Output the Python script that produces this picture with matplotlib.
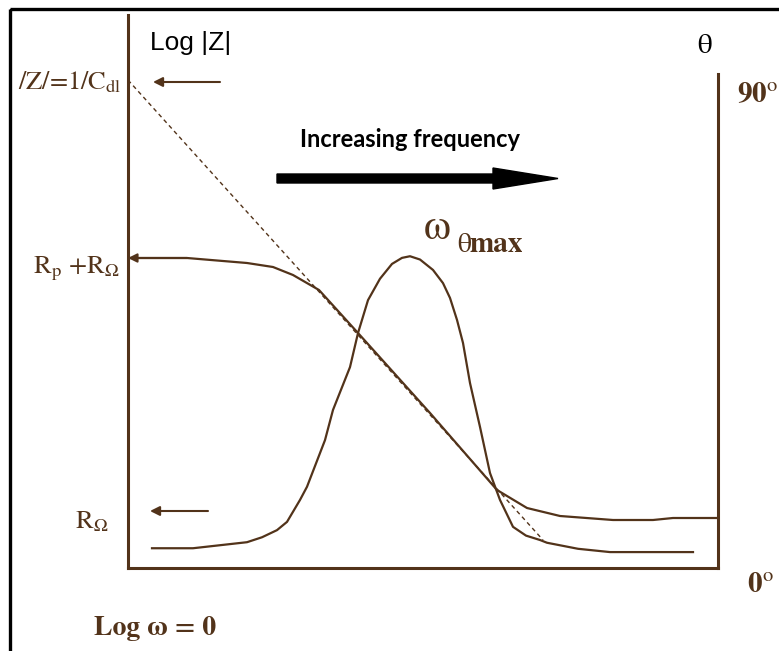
import matplotlib.pyplot as plt
from matplotlib.patches import FancyArrow, Rectangle

plt.rcParams['mathtext.fontset'] = 'stix'

# log|Z| (Bode magnitude) readings, x = log(omega), y = log|Z|
logw_mag = [0.0, 0.59, 1.19, 1.45, 1.65, 1.91, 2.30, 3.02, 3.69, 3.99, 4.32, 4.85, 5.25, 5.45, 5.90]
log_z = [3.10, 3.10, 3.05, 3.01, 2.93, 2.78, 2.35, 1.55, 0.78, 0.60, 0.52, 0.48, 0.48, 0.50, 0.50]

# capacitive asymptote |Z| = 1/Cdl
logw_asym = [0.0, 4.15]
log_z_asym = [4.88, 0.28]

# phase angle readings (degrees)
logw_phase = [0.24, 0.65, 1.19, 1.34, 1.49, 1.59, 1.72, 1.79, 1.97, 2.05, 2.22, 2.30, 2.40,
              2.52, 2.64, 2.74, 2.82, 2.92, 3.05, 3.15, 3.22, 3.29, 3.35, 3.42, 3.52, 3.62,
              3.72, 3.85, 3.98, 4.12, 4.19, 4.50, 4.82, 5.65]
theta = [3.6, 3.6, 4.7, 5.6, 6.9, 8.4, 12.4, 14.8, 23.3, 28.8, 36.6, 42.8, 48.8,
         52.7, 55.4, 56.5, 56.8, 56.2, 54.3, 51.9, 49.2, 45.2, 41.0, 33.7, 25.7, 17.3,
         12.4, 7.5, 5.9, 5.1, 4.6, 3.5, 2.9, 2.9]

# reference levels marked with arrows on the log|Z| axis
level_cdl = 4.86
level_rohm = 0.57

brown = '#52331a'
W, H = 779, 651

fig = plt.figure(figsize=(W / 100, H / 100), dpi=100)

# overlay in pixel units for the frame and the labels
ov = fig.add_axes([0, 0, 1, 1])
ov.set_xlim(0, W)
ov.set_ylim(H, 0)
ov.axis('off')
ov.add_patch(Rectangle((10, 8.5), 900, 900, fill=False, edgecolor='black', lw=2.4))

# main plot area
ax = fig.add_axes([128 / W, (H - 568) / H, 590 / W, 553 / H])
ax.patch.set_alpha(0)
ax.set_xlim(0, 5.90)
ax.set_ylim(0, 5.53)
ax.set_xticks([])
ax.set_yticks([])
for side in ['top', 'right']:
    ax.spines[side].set_visible(False)
for side in ['left', 'bottom']:
    ax.spines[side].set_color(brown)
    ax.spines[side].set_linewidth(2.2)

ax2 = ax.twinx()
ax2.set_ylim(0, 90 * 553 / 494)
ax2.set_yticks([])
for side in ['top', 'left', 'bottom']:
    ax2.spines[side].set_visible(False)
ax2.spines['right'].set_bounds(0, 90)
ax2.spines['right'].set_color(brown)
ax2.spines['right'].set_linewidth(2.2)

# magnitude curve with arrow head at the axis
ax.plot(logw_mag, log_z, color=brown, lw=1.6, solid_joinstyle='round')
ax.annotate('', xy=(logw_mag[0], log_z[0]), xytext=(logw_mag[1], log_z[1]),
            arrowprops=dict(arrowstyle='-|>', color=brown, lw=1.5, mutation_scale=13,
                            shrinkA=0, shrinkB=0))
ax.plot(logw_asym, log_z_asym, color=brown, lw=1.0, ls=(0, (3, 2.5)))

# phase curve
ax2.plot(logw_phase, theta, color=brown, lw=1.6, solid_joinstyle='round')

# level arrows
ax.annotate('', xy=(0.25, level_cdl), xytext=(0.92, level_cdl),
            arrowprops=dict(arrowstyle='-|>', color=brown, lw=1.5, mutation_scale=14,
                            shrinkA=0, shrinkB=0))
ax.annotate('', xy=(0.22, level_rohm), xytext=(0.80, level_rohm),
            arrowprops=dict(arrowstyle='-|>', color=brown, lw=1.5, mutation_scale=14,
                            shrinkA=0, shrinkB=0))

# labels
serif = 'STIXGeneral'
ov.text(150, 50, 'Log |Z|', family='Liberation Sans', fontsize=19, color='black', va='baseline')
ov.text(704, 53, 'θ', family=serif, fontsize=21, color='black', ha='center', va='baseline')
ov.text(122, 89, r'/Z/=1/C$_{\rm dl}$', family=serif, fontsize=19, color=brown,
        ha='right', va='baseline')
ov.text(119, 273, r'R$_{\rm p}$ +R$_{\Omega}$', family=serif, fontsize=19, color=brown,
        ha='right', va='baseline')
ov.text(108, 528, r'R$_{\Omega}$', family=serif, fontsize=19, color=brown,
        ha='right', va='baseline')
ov.text(155, 635, 'Log ω = 0', family=serif, fontsize=20, fontweight='bold',
        color=brown, ha='center', va='baseline')
ov.text(737, 102, r'90$^{\rm o}$', family=serif, fontsize=21, fontweight='bold', color=brown,
        va='baseline')
ov.text(747, 592, r'0$^{\rm o}$', family=serif, fontsize=21, fontweight='bold', color=brown,
        va='baseline')
ov.text(424, 239, 'ω', family=serif, fontsize=31, color=brown, va='baseline')
ov.text(457, 252, 'θ', family=serif, fontsize=20, color=brown, va='baseline')
ov.text(470, 252, 'max', family=serif, fontsize=21, fontweight='bold', color=brown,
        va='baseline')

ov.text(410, 147, 'Increasing frequency', family='Lato', fontweight='bold', fontsize=17,
        color='black', ha='center', va='baseline')
ov.add_patch(FancyArrow(277, 178.5, 281, 0, width=9, head_width=21, head_length=65,
                        length_includes_head=True, color='black'))

fig.savefig('out.png', dpi=100)
